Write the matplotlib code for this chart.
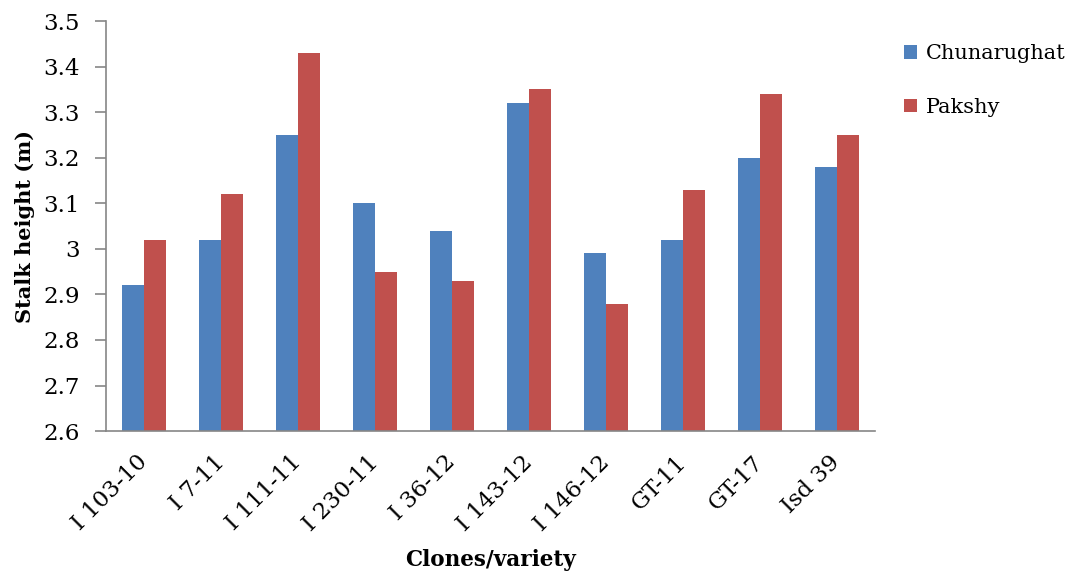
import matplotlib.pyplot as plt
import numpy as np

# === DATA ===
clones = ['I 103-10', 'I 7-11', 'I 111-11', 'I 230-11', 'I 36-12',
          'I 143-12', 'I 146-12', 'GT-11', 'GT-17', 'Isd 39']
chunarughat = [2.92, 3.02, 3.25, 3.10, 3.04, 3.32, 2.99, 3.02, 3.20, 3.18]
pakshy = [3.02, 3.12, 3.43, 2.95, 2.93, 3.35, 2.88, 3.13, 3.34, 3.25]

plt.rcParams['font.family'] = ['DejaVu Serif']

fig = plt.figure(figsize=(10.79, 5.71), dpi=100)
ax = fig.add_axes([0.0982, 0.245, 0.713, 0.718])

x = np.arange(len(clones))
w = 1 / 3.5
b1 = ax.bar(x - w / 2, chunarughat, w, color='#4F81BD', label='Chunarughat')
b2 = ax.bar(x + w / 2, pakshy, w, color='#C0504D', label='Pakshy')

ax.set_ylim(2.6, 3.5)
ax.set_xlim(-0.5, len(clones) - 0.5)
ax.set_yticks(np.arange(2.6, 3.51, 0.1))
ax.set_yticklabels(['2.6', '2.7', '2.8', '2.9', '3', '3.1', '3.2', '3.3', '3.4', '3.5'])
ax.set_xticks(x)
ax.set_xticklabels(clones, rotation=45, ha='right', va='center', rotation_mode='anchor')

for s in ['top', 'right']:
    ax.spines[s].set_visible(False)
for s in ['left', 'bottom']:
    ax.spines[s].set_color('#868686')
    ax.spines[s].set_linewidth(1.2)
ax.tick_params(axis='y', labelsize=16.5, length=8, width=1.2, color='#868686', pad=11)
ax.tick_params(axis='x', labelsize=16.5, length=0, pad=20)

ax.set_ylabel('Stalk height (m)', fontsize=15, fontweight='bold', labelpad=6)
ax.set_xlabel('Clones/variety', fontsize=15.5, fontweight='bold', labelpad=10)

fig.legend(handles=[b1, b2], loc='upper left', bbox_to_anchor=(0.82, 0.955),
           frameon=False, fontsize=15, handlelength=0.65, handleheight=0.65,
           handletextpad=0.4, labelspacing=1.65)

fig.savefig('out.png', dpi=100)
